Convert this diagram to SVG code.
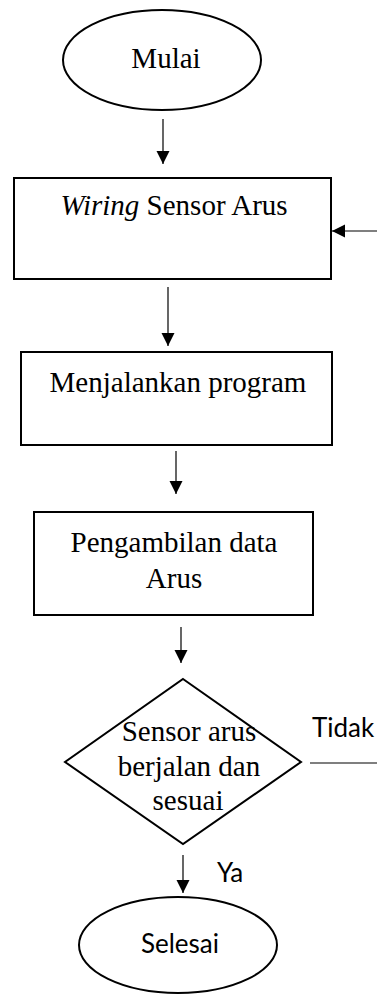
<svg xmlns="http://www.w3.org/2000/svg" width="377" height="996" viewBox="0 0 377 996">
  <style>
    .shape { fill: #ffffff; stroke: #000000; stroke-width: 2; }
    .conn { fill: none; stroke: #000000; stroke-width: 1.2; }
    .serif { font-family: "Liberation Serif", "Times New Roman", serif; font-size: 29px; fill: #000000; text-anchor: middle; }
    .sans { font-family: Lato, "Noto Sans", "Liberation Sans", sans-serif; font-size: 26px; fill: #000000; }
  </style>
  <defs>
    <marker id="arrow" viewBox="0 0 10 10" refX="10" refY="5" markerWidth="13" markerHeight="15" markerUnits="userSpaceOnUse" orient="auto">
      <path d="M0,0 L10,5 L0,10 Z" fill="#000000"/>
    </marker>
  </defs>

  <rect width="377" height="996" fill="#ffffff"/>

  <g id="connectors">
    <line class="conn" x1="163" y1="119" x2="163" y2="164" marker-end="url(#arrow)"/>
    <line class="conn" x1="377" y1="231" x2="332" y2="231" marker-end="url(#arrow)"/>
    <line class="conn" x1="168" y1="287" x2="168" y2="346" marker-end="url(#arrow)"/>
    <line class="conn" x1="176" y1="451" x2="176" y2="494" marker-end="url(#arrow)"/>
    <line class="conn" x1="181" y1="627" x2="181" y2="663" marker-end="url(#arrow)"/>
    <line class="conn" x1="310" y1="763" x2="377" y2="763"/>
    <line class="conn" x1="183" y1="855" x2="183" y2="893" marker-end="url(#arrow)"/>
    <text class="sans" x="312" y="737">Tidak</text>
    <text class="sans" x="217" y="882">Ya</text>
  </g>

  <g id="start">
    <ellipse class="shape" cx="162" cy="60" rx="99" ry="50"/>
    <text class="serif" x="166" y="68">Mulai</text>
  </g>

  <g id="wiring">
    <rect class="shape" x="14" y="178" width="317" height="101"/>
    <text class="serif" x="174" y="215"><tspan font-style="italic">Wiring</tspan> Sensor Arus</text>
  </g>

  <g id="run-program">
    <rect class="shape" x="21" y="352" width="311" height="93"/>
    <text class="serif" x="178" y="392">Menjalankan program</text>
  </g>

  <g id="read-data">
    <rect class="shape" x="34" y="512" width="279" height="103"/>
    <text class="serif" x="174" y="552">Pengambilan data</text>
    <text class="serif" x="174" y="588">Arus</text>
  </g>

  <g id="check">
    <polygon class="shape" points="183,679 301,762 183,844 65,762"/>
    <text class="serif" x="189" y="741">Sensor arus</text>
    <text class="serif" x="189" y="776">berjalan dan</text>
    <text class="serif" x="188" y="810">sesuai</text>
  </g>

  <g id="finish">
    <ellipse class="shape" cx="178" cy="945" rx="99" ry="48"/>
    <text class="sans" x="180" y="953" text-anchor="middle">Selesai</text>
  </g>
</svg>
